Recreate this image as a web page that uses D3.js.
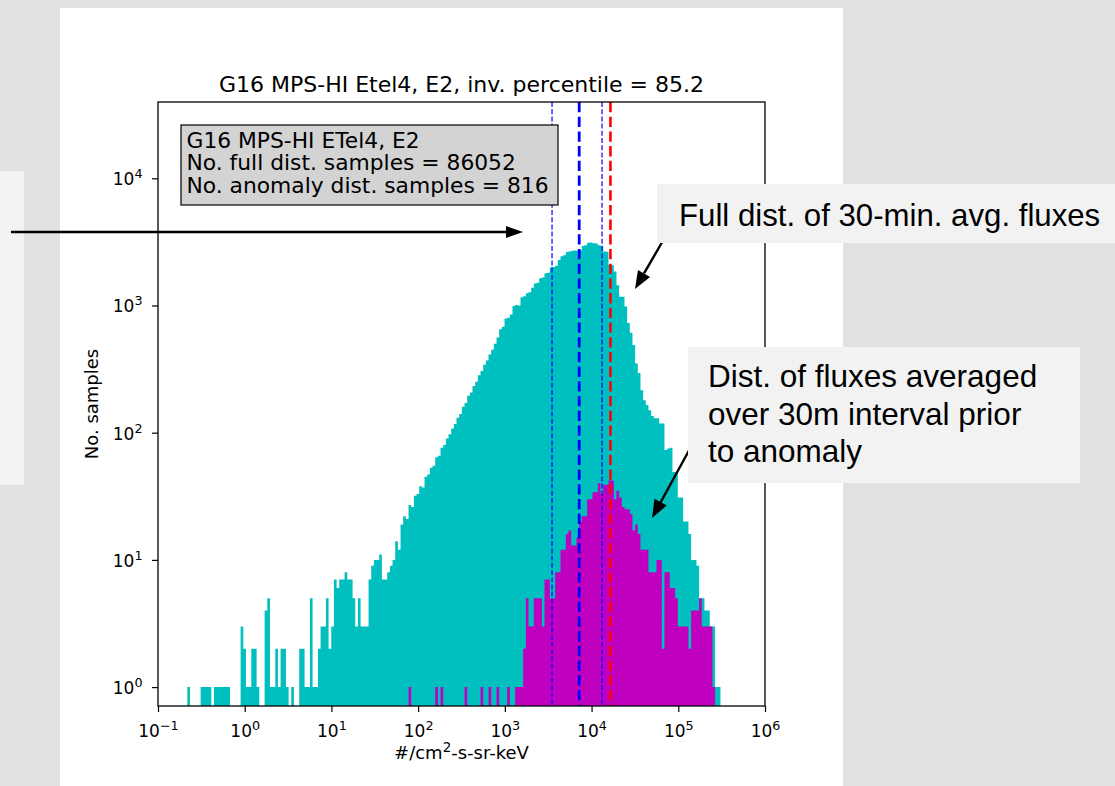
<!DOCTYPE html>
<html>
<head>
<meta charset="utf-8">
<script src="https://cdn.jsdelivr.net/npm/d3@7"></script>
<style>
  body { margin: 0; background: #e1e1e1; }
  svg { display: block; }
</style>
</head>
<body>
<div id="chart"></div>
<script>
// 200 log-spaced bins between the smallest and largest flux (log10 units)
const binLogMin = -0.662;
const binLogMax = 5.486;

// full distribution of 30-min averaged fluxes (cyan), counts per bin
const fullCounts = [
  1, 0, 0, 0, 0, 1, 1, 1, 1, 0,
  1, 1, 1, 1, 1, 1, 0, 0, 0, 0,
  3, 2, 1, 1, 2, 2, 1, 0, 0, 4,
  5, 1, 1, 2, 1, 2, 2, 1, 0, 1,
  0, 0, 2, 2, 1, 1, 5, 1, 1, 2,
  3, 3, 5, 2, 3, 7, 6, 7, 7, 8,
  7, 7, 5, 3, 5, 3, 3, 3, 7, 9,
  10, 10, 11, 7, 7, 8, 9, 10, 14, 12,
  19, 22, 21, 27, 26, 32, 33, 38, 37, 45,
  47, 53, 55, 64, 66, 76, 80, 90, 97, 108,
  117, 131, 140, 160, 171, 195, 207, 233, 252, 283,
  306, 342, 370, 412, 448, 500, 560, 650, 680, 790,
  800, 850, 990, 1010, 1000, 1160, 1180, 1250, 1270, 1380,
  1490, 1510, 1640, 1660, 1790, 1810, 1990, 2010, 2050, 2280,
  2440, 2480, 2630, 2660, 2690, 2710, 2700, 2720, 2940, 2980,
  3110, 3130, 3090, 3070, 2970, 2950, 2660, 2640, 2090, 2070,
  1850, 1440, 1170, 1170, 980, 730, 610, 490, 350, 295,
  216, 180, 165, 150, 135, 130, 130, 118, 118, 73,
  75, 76, 49, 49, 31, 31, 20, 20, 16, 10,
  10, 9, 5, 5, 4, 4, 3, 3, 1, 1
];

// distribution over the 30 min before each anomaly (magenta), same bins
const anomalyCounts = [
  0, 0, 0, 0, 0, 0, 0, 0, 0, 0,
  0, 0, 0, 0, 0, 0, 0, 0, 0, 0,
  0, 0, 0, 0, 0, 0, 0, 0, 0, 0,
  0, 0, 0, 0, 0, 0, 0, 0, 0, 0,
  0, 0, 0, 0, 0, 0, 0, 0, 0, 0,
  0, 0, 0, 0, 0, 0, 0, 0, 0, 0,
  0, 0, 0, 0, 0, 0, 0, 0, 0, 0,
  0, 0, 0, 0, 0, 0, 0, 0, 0, 0,
  0, 0, 0, 1, 0, 0, 0, 0, 0, 0,
  0, 0, 0, 1, 0, 1, 0, 0, 0, 0,
  0, 0, 0, 0, 1, 0, 0, 0, 0, 0,
  1, 0, 0, 1, 0, 0, 1, 0, 0, 0,
  1, 0, 0, 1, 1, 1, 2, 5, 3, 3,
  5, 5, 5, 3, 7, 7, 5, 5, 8, 8,
  12, 12, 16, 17, 13, 13, 15, 20, 22, 22,
  30, 30, 34, 34, 40, 33, 39, 39, 42, 42,
  30, 35, 31, 26, 25, 25, 23, 17, 19, 16,
  12, 12, 12, 8, 8, 8, 10, 10, 2, 8,
  8, 6, 6, 5, 3, 3, 3, 3, 2, 4,
  4, 4, 5, 3, 3, 3, 3, 1, 0, 0
];

// percentile markers: thin blue, thick blue, thin blue, red
const markerValues = [3500, 7200, 13200, 16500];

const xTickExps = [-1, 0, 1, 2, 3, 4, 5, 6];
const yTickExps = [0, 1, 2, 3, 4];

const titleText = "G16 MPS-HI Etel4, E2, inv. percentile = 85.2";
const infoLines = [
  "G16 MPS-HI ETel4, E2",
  "No. full dist. samples = 86052",
  "No. anomaly dist. samples = 816"
];
const calloutFull = ["Full dist. of 30-min. avg. fluxes"];
const calloutAnomaly = ["Dist. of fluxes averaged", "over 30m interval prior", "to anomaly"];

(function () {
  const W = 1115, H = 786;
  const plot = { left: 158, right: 765, top: 102, bottom: 706 };
  const font = "'DejaVu Sans', sans-serif";
  const tickFont = 17;
  const labelFont = 18;

  const svg = d3.select("#chart").append("svg").attr("width", W).attr("height", H);

  // slide background pieces
  svg.append("rect").attr("width", W).attr("height", H).attr("fill", "#e1e1e1");
  svg.append("rect").attr("x", 0).attr("y", 171).attr("width", 24).attr("height", 314).attr("fill", "#f2f2f2");
  svg.append("rect").attr("x", 60).attr("y", 8).attr("width", 783).attr("height", 778).attr("fill", "#fff");

  const x = d3.scaleLog().domain([0.1, 1e6]).range([plot.left, plot.right]);
  const y = d3.scaleLog().domain([0.71, 39800]).range([plot.bottom, plot.top]);

  const nBins = fullCounts.length;
  const edges = d3.range(nBins + 1).map((i) => Math.pow(10, binLogMin + (i * (binLogMax - binLogMin)) / nBins));

  function histPoints(counts) {
    const pts = counts.map((c, i) => [edges[i], c]);
    pts.push([edges[nBins], counts[nBins - 1]]);
    return pts;
  }

  const area = d3
    .area()
    .curve(d3.curveStepAfter)
    .x((d) => x(d[0]))
    .y0(plot.bottom)
    .y1((d) => (d[1] > 0 ? y(d[1]) : plot.bottom));

  svg.append("path").datum(histPoints(fullCounts)).attr("d", area).attr("fill", "#00bfbf");
  svg.append("path").datum(histPoints(anomalyCounts)).attr("fill", "#bf00bf").attr("d", area);

  // vertical percentile lines
  const markerStyle = [
    { color: "#0000ff", width: 1.2, dash: "5,2.2" },
    { color: "#0000ff", width: 2.8, dash: "10.3,4.4" },
    { color: "#0000ff", width: 1.2, dash: "5,2.2" },
    { color: "#ff0000", width: 2.6, dash: "10.3,4.4" }
  ];
  svg
    .selectAll(".marker")
    .data(markerValues)
    .join("line")
    .attr("class", "marker")
    .attr("x1", (d) => x(d))
    .attr("x2", (d) => x(d))
    .attr("y1", plot.top)
    .attr("y2", plot.bottom)
    .attr("stroke", (d, i) => markerStyle[i].color)
    .attr("stroke-width", (d, i) => markerStyle[i].width)
    .attr("stroke-dasharray", (d, i) => markerStyle[i].dash);

  // axes
  const minors = (lo, hi) => {
    const out = [];
    for (let e = lo; e <= hi; e++) for (let m = 2; m <= 9; m++) out.push(m * Math.pow(10, e));
    return out;
  };
  const supLabel = function (d) {
    const e = Math.round(Math.log10(d));
    const t = d3.select(this);
    t.text(null);
    t.append("tspan").text("10");
    t.append("tspan").attr("dy", "-0.55em").attr("font-size", "0.75em").text(e < 0 ? "\u2212" + -e : e);
  };

  const xAxisG = svg.append("g").attr("transform", `translate(0,${plot.bottom})`);
  xAxisG.call(d3.axisBottom(x).tickValues(minors(-1, 5)).tickSize(3.5).tickFormat(""));
  xAxisG.call(d3.axisBottom(x).tickValues(xTickExps.map((e) => Math.pow(10, e))).tickSize(6));
  xAxisG.selectAll(".tick text").each(supLabel).attr("y", 31).attr("dy", null);

  const yAxisG = svg.append("g").attr("transform", `translate(${plot.left},0)`);
  yAxisG.call(
    d3.axisLeft(y).tickValues(minors(-1, 4).filter((v) => v >= 0.71 && v <= 39800)).tickSize(3.5).tickFormat("")
  );
  yAxisG.call(d3.axisLeft(y).tickValues(yTickExps.map((e) => Math.pow(10, e))).tickSize(6).tickPadding(9.5));
  yAxisG.selectAll(".tick text").each(supLabel).attr("dy", "0.38em");

  svg.selectAll(".domain").remove();
  svg.selectAll(".tick line").attr("stroke", "#000").attr("stroke-width", 1.2);
  svg.selectAll(".tick text").attr("fill", "#000").attr("font-family", font).attr("font-size", tickFont);

  svg
    .append("rect")
    .attr("x", plot.left)
    .attr("y", plot.top)
    .attr("width", plot.right - plot.left)
    .attr("height", plot.bottom - plot.top)
    .attr("fill", "none")
    .attr("stroke", "#000")
    .attr("stroke-width", 1.3);

  // axis labels and title
  const xl = svg
    .append("text")
    .attr("x", (plot.left + plot.right) / 2)
    .attr("y", 759)
    .attr("text-anchor", "middle")
    .attr("font-family", font)
    .attr("font-size", labelFont);
  xl.append("tspan").text("#/cm");
  xl.append("tspan").attr("dy", "-0.5em").attr("font-size", "0.75em").text("2");
  xl.append("tspan").attr("dy", "0.375em").text("-s-sr-keV");

  svg
    .append("text")
    .attr("transform", `translate(98,${(plot.top + plot.bottom) / 2}) rotate(-90)`)
    .attr("text-anchor", "middle")
    .attr("font-family", font)
    .attr("font-size", labelFont)
    .text("No. samples");

  svg
    .append("text")
    .attr("x", (plot.left + plot.right) / 2)
    .attr("y", 92)
    .attr("text-anchor", "middle")
    .attr("font-family", font)
    .attr("font-size", 22)
    .text(titleText);

  // info box
  svg
    .append("rect")
    .attr("x", 181)
    .attr("y", 125)
    .attr("width", 377)
    .attr("height", 80)
    .attr("fill", "#d3d3d3")
    .attr("stroke", "#000")
    .attr("stroke-width", 1.2);
  svg
    .selectAll(".info")
    .data(infoLines)
    .join("text")
    .attr("class", "info")
    .attr("x", 186.5)
    .attr("y", (d, i) => 147.5 + i * 22.7)
    .attr("font-family", font)
    .attr("font-size", 21.8)
    .text((d) => d);

  // annotation arrows
  function arrow(x1, y1, x2, y2, head, halfW, sw) {
    const a = Math.atan2(y2 - y1, x2 - x1);
    const bx = x2 - head * Math.cos(a), by = y2 - head * Math.sin(a);
    svg.append("line").attr("x1", x1).attr("y1", y1).attr("x2", bx).attr("y2", by)
      .attr("stroke", "#000").attr("stroke-width", sw);
    const px = -Math.sin(a) * halfW, py = Math.cos(a) * halfW;
    svg.append("path")
      .attr("d", `M${x2},${y2}L${bx + px},${by + py}L${bx - px},${by - py}Z`)
      .attr("fill", "#000");
  }
  arrow(11, 232, 523, 232, 17, 6, 2.4);
  arrow(668, 232, 635, 289, 18, 7, 2.4);
  arrow(692, 445, 652, 518, 18, 7, 2.4);

  // callout boxes
  const callFont = "'Liberation Sans', Arial, sans-serif";
  svg.append("rect").attr("x", 657).attr("y", 184).attr("width", 458).attr("height", 59).attr("fill", "#f2f2f2");
  svg.selectAll(".call1").data(calloutFull).join("text").attr("class", "call1")
    .attr("x", 679).attr("y", 226).attr("font-family", callFont).attr("font-size", 31.2).text((d) => d);

  svg.append("rect").attr("x", 688).attr("y", 347).attr("width", 392).attr("height", 136).attr("fill", "#f2f2f2");
  svg.selectAll(".call2").data(calloutAnomaly).join("text").attr("class", "call2")
    .attr("x", 708).attr("y", (d, i) => 387 + i * 37.5)
    .attr("font-family", callFont).attr("font-size", 31.5).text((d) => d);
})();
</script>
</body>
</html>
